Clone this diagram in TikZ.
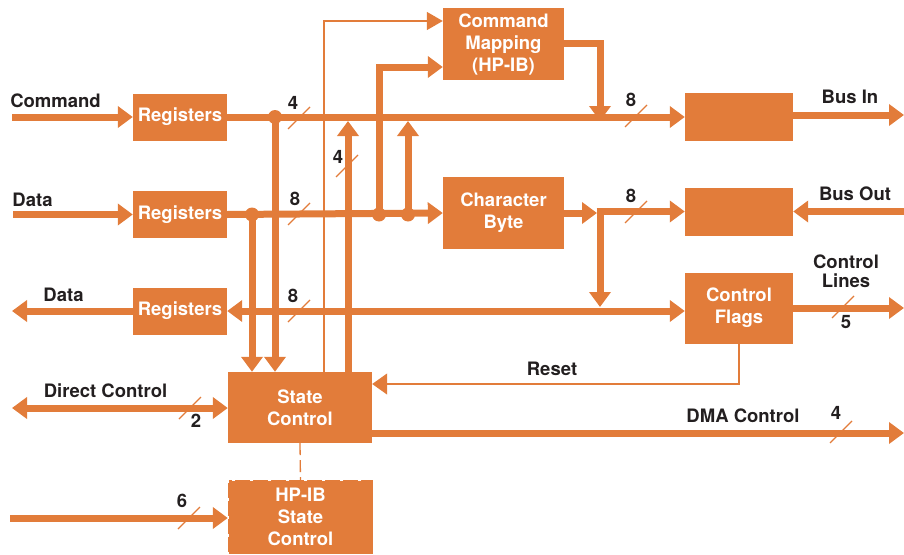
\documentclass[tikz,border=0pt]{standalone}
\usepackage{fontspec}
\setmainfont{TeX Gyre Heros}
\usetikzlibrary{arrows.meta}
\definecolor{org}{RGB}{226,124,58}
\definecolor{ink}{RGB}{35,31,32}
\tikzset{
  blk/.style={fill=org, draw=none, text=white, font=\bfseries\fontsize{18.5}{22}\selectfont, align=center, inner sep=0pt},
  lbl/.style={text=ink, font=\bfseries\fontsize{18.5}{19}\selectfont, align=center, inner sep=0pt},
  bus/.style={draw=org, line width=7pt},
  thinline/.style={draw=org, line width=1.3pt},
  tip/.style={-{Triangle[length=15pt,width=21pt]}},
  ttip/.style={-{Triangle[length=16pt,width=18pt]}},
  both/.style={{Triangle[length=15pt,width=21pt]}-{Triangle[length=15pt,width=21pt]}},
  busslash/.pic={\draw[org, line width=1.2pt] (-11,11) -- (11,-11);},
  jdot/.style={fill=org}
}
\begin{document}
\begin{tikzpicture}[x=1pt,y=-1pt]
\useasboundingbox (0,0) rectangle (904,554);
% blocks
\node[blk, minimum width=94pt, minimum height=47pt] (reg1) at (180,117) {Registers};
\node[blk, minimum width=94pt, minimum height=47pt] (reg2) at (180,214.5) {Registers};
\node[blk, minimum width=94pt, minimum height=47pt] (reg3) at (180,311) {Registers};
\node[blk, minimum width=121pt, minimum height=72pt] (cmap) at (503.5,44) {Command\\Mapping\\(HP-IB)};
\node[blk, minimum width=121pt, minimum height=72pt] (cbyte) at (503.5,213) {Character\\Byte};
\node[blk, minimum width=108pt, minimum height=48pt] (busin) at (739,117) {};
\node[blk, minimum width=108pt, minimum height=48pt] (busout) at (739,211.5) {};
\node[blk, minimum width=108pt, minimum height=71pt] (cflags) at (739,308) {Control\\Flags};
\node[blk, minimum width=144pt, minimum height=71pt] (sc) at (300,407.5) {State\\Control};
\node[blk, minimum width=145pt, minimum height=74pt] (hpib) at (300.5,517) {HP-IB\\State\\Control};
\draw[white, line width=1.4pt, dash pattern=on 3pt off 15pt] (hpib.north west) rectangle (hpib.south east);
% coordinates
\coordinate (cmdin) at (12,117);
\coordinate (datin) at (13,214.5);
\coordinate (datout) at (12,311);
\coordinate (dcin) at (12,408);
\coordinate (sixin) at (10,518);
\coordinate (j1) at (275,117);
\coordinate (j2) at (252,214.5);
\coordinate (j3) at (379,214.5);
\coordinate (j4) at (408,214.5);
\coordinate (u1) at (348,121);
\coordinate (u2) at (408,121);
\coordinate (t1) at (324,21);
\coordinate (k1) at (379,67);
\coordinate (m1) at (600,43);
\coordinate (m2) at (600,121);
\coordinate (s0) at (597,213);
\coordinate (s1) at (600,211.5);
\coordinate (s2) at (600,307);
\coordinate (rb1) at (904,115);
\coordinate (rb2) at (904,211.5);
\coordinate (rb3) at (904,308);
\coordinate (dma) at (904,433);
\coordinate (rs) at (739,384);
% input/output lines
\draw[bus,tip] (cmdin) -- (reg1.west);
\draw[bus,tip] (datin) -- (reg2.west);
\draw[bus,tip] (reg3.west) -- (datout);
\draw[bus,both] (dcin) -- (dcin -| sc.west);
\draw[bus,tip] (sixin) -- (sixin -| hpib.west);
% main buses
\draw[bus,tip] (reg1.east) -- (busin.west);
\draw[bus,tip] (reg2.east) -- (cbyte.west);
\draw[bus,both] (reg3.east) -- (reg3.east -| cflags.west);
% verticals
\draw[bus,tip] (j1) -- (j1 |- sc.north);
\draw[bus,tip] (j2) -- (j2 |- sc.north);
\draw[thinline,ttip] (t1 |- sc.north) -- (t1) -- (t1 -| cmap.west);
\draw[bus,tip] (u1 |- sc.north) -- (u1);
\draw[bus,tip] (j3) -- (k1) -- (k1 -| cmap.west);
\draw[bus,tip] (j4) -- (u2);
\draw[bus,tip] (m1 -| cmap.east) -- (m1) -- (m2);
% character byte output
\draw[bus,tip] (cbyte.east) -- (s0);
\draw[bus,tip] ([xshift=-3.5pt]s1) -- (busout.west);
\draw[bus,tip] ([yshift=-3.5pt]s1) -- (s2);
% right side
\draw[bus,tip] (busin.east |- rb1) -- (rb1);
\draw[bus,tip] (rb2) -- (busout.east);
\draw[bus,tip] (cflags.east |- rb3) -- (rb3);
\draw[bus,tip] (dma -| sc.east) -- (dma);
\draw[thinline,tip] (cflags.south) -- (rs) -- (rs -| sc.east);
\draw[thinline, dash pattern=on 12pt off 5pt] (sc.south) -- (hpib.north);
% junction dots
\foreach \j in {j1,j2,j3,j4} \fill[jdot] (\j) circle (7pt);
% bus width slashes
\pic at (299,118) {busslash};
\pic at (299,214) {busslash};
\pic at (347,166) {busslash};
\pic at (636,116) {busslash};
\pic at (636,212) {busslash};
\pic at (299,311) {busslash};
\pic at (843,307) {busslash};
\pic at (841,432) {busslash};
\pic at (190,408) {busslash};
\pic at (189,518) {busslash};
% labels
\node[lbl] (lcmd) at (55.5,101) {Command};
\node[lbl] (ldat1) at (32.5,200) {Data};
\node[lbl] (ldat2) at (63.5,295) {Data};
\node[lbl] (ldc) at (105.5,391) {Direct Control};
\node[lbl] (l2) at (196,421) {2};
\node[lbl] (l6) at (182,501) {6};
\node[lbl] (l4a) at (293,103) {4};
\node[lbl] (l8a) at (295,199) {8};
\node[lbl] (l4b) at (338,157) {4};
\node[lbl] (l8b) at (631,100) {8};
\node[lbl] (l8c) at (631,196) {8};
\node[lbl] (l8d) at (293,296) {8};
\node[lbl] (lbin) at (850,97) {Bus In};
\node[lbl] (lbout) at (855,194) {Bus Out};
\node[lbl] (lctl) at (846,271) {Control\\Lines};
\node[lbl] (l5) at (846,322) {5};
\node[lbl] (lrst) at (552,369) {Reset};
\node[lbl] (ldma) at (743,416) {DMA Control};
\node[lbl] (l4c) at (836,413) {4};
\end{tikzpicture}
\end{document}
